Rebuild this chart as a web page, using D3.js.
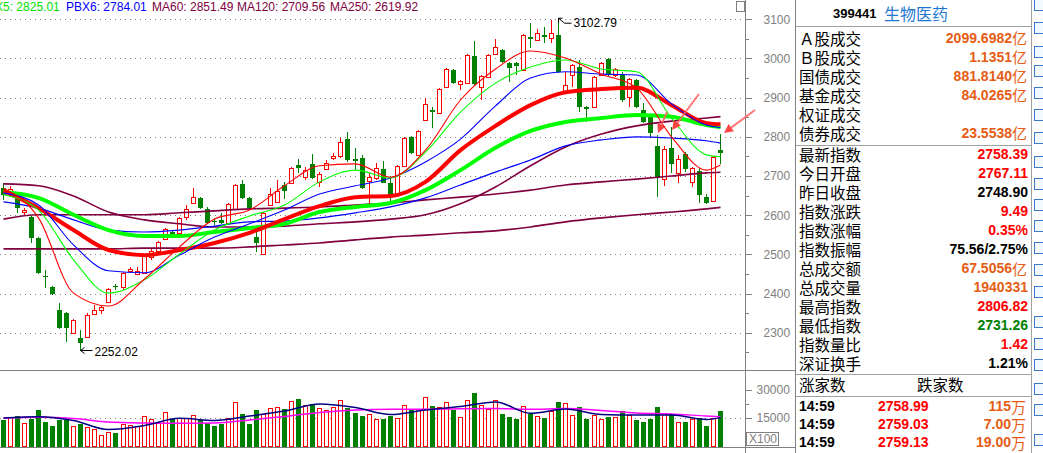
<!DOCTYPE html>
<html>
<head>
<meta charset="utf-8">
<script src="https://cdn.jsdelivr.net/npm/d3@7"></script>
<style>
body{margin:0;background:#fff;overflow:hidden}
svg{display:block}
</style>
</head>
<body>
<svg id="chart" width="1043" height="453"></svg>
<script>
// daily candles, [open, high, low, close]
var candles = [
[2669,2682,2639,2652],[2660,2675,2655,2668],[2644,2652,2606,2618],[2607,2618,2601,2613],
[2595,2598,2529,2542],[2542,2545,2450,2452],[2446,2460,2414,2443],[2417,2420,2396,2399],
[2358,2376,2310,2312],[2350,2352,2276,2312],[2299,2335,2297,2332],[2287,2307,2252.02,2274],
[2289,2350,2287,2345],[2348,2371,2346,2358],[2358,2368,2348,2366],[2378,2414,2376,2412],
[2418,2424,2409,2416],[2417,2455,2409,2452],[2458,2468,2452,2463],[2450,2468,2449,2458],
[2452,2498,2450,2496],[2493,2516,2486,2509],[2509,2534,2506,2532],[2539,2567,2537,2565],
[2557,2563,2547,2550],[2555,2595,2552,2593],[2595,2626,2588,2616],[2631,2669,2630,2646],
[2644,2647,2616,2618],[2616,2620,2577,2580],[2585,2593,2575,2582],[2588,2606,2578,2580],
[2580,2631,2578,2629],[2616,2680,2613,2677],[2680,2690,2641,2644],[2644,2647,2613,2618],
[2544,2572,2506,2529],[2501,2608,2498,2606],[2626,2669,2624,2654],[2634,2690,2631,2662],
[2677,2685,2641,2662],[2682,2723,2680,2720],[2728,2743,2708,2720],[2697,2723,2690,2715],
[2731,2756,2692,2695],[2685,2710,2672,2705],[2718,2741,2715,2733],[2746,2759,2741,2751],
[2751,2797,2746,2787],[2794,2812,2736,2741],[2743,2771,2715,2738],[2746,2754,2667,2669],
[2687,2708,2626,2697],[2695,2733,2690,2720],[2718,2738,2681,2682],[2682,2695,2626,2646],
[2654,2728,2651,2726],[2726,2800,2723,2797],[2800,2802,2756,2759],[2754,2817,2751,2815],
[2843,2899,2840,2884],[2868,2876,2823,2863],[2861,2925,2858,2922],[2927,2976,2925,2973],
[2971,2973,2935,2937],[2935,2945,2920,2942],[2937,3011,2935,3009],[3006,3045,2932,2935],
[2927,2958,2894,2955],[2953,3011,2950,3009],[3011,3050,3009,3029],[3022,3024,2988,2991],
[2988,2991,2940,2976],[2988,2991,2958,2981],[2971,3062,2968,3060],[3055,3091,3027,3050],
[3047,3075,3045,3065],[3060,3080,3040,3055],[3052,3098,3040,3065],[3060,3102.79,2963,2966],
[2917,2966,2915,2932],[2958,2985,2927,2983],[2978,2996,2863,2876],[2876,2878,2838,2871],
[2876,2955,2874,2953],[2958,2991,2955,2988],[2999,3002,2953,2958],[2958,2976,2953,2973],
[2958,2966,2889,2894],[2902,2950,2876,2948],[2945,2948,2873,2876],[2868,2886,2835,2838],
[2851,2856,2797,2810],[2777,2805,2647,2695],[2692,2777,2675,2769],[2772,2825,2708,2731],
[2708,2754,2682,2744],[2756,2761,2710,2718],[2685,2723,2672,2721],[2713,2721,2631,2652],
[2647,2654,2629,2631],[2636,2751,2634,2748.90],[2767.11,2806.82,2731.26,2758.39]
];
// volume (x100)
var volumes = [
14300,15700,16600,12200,14800,19800,13400,11250,14300,14300,10700,12200,10000,8900,5900,7500,
7700,11800,11250,10700,16100,14300,12200,18000,14800,14800,14800,16600,14300,12700,11250,12200,
14800,23400,17500,12500,19800,17000,20200,20700,20200,24100,25700,22000,22900,20200,19300,21100,
24600,21100,18400,16600,17100,14300,14800,16600,15200,22000,19600,19600,26400,22000,21100,23600,
19600,15400,24600,29100,22000,19600,24600,17900,16100,15200,21400,17500,16100,15400,18900,24100,
22900,16600,21400,15200,16600,14300,16100,15700,19300,16600,14500,13400,15200,21400,17500,17500,
13000,13400,14300,15700,11250,14800,19403
];
// averages at these candle positions
var maIdx = [0,5,10,15,20,25,30,35,40,45,50,55,60,65,70,75,80,85,90,95,100,102];
var pbx1 = [2669,2593,2401,2368,2437,2519,2590,2613,2675,2726,2731,2697,2766,2894,2973,3019,3001,2960,2925,2800,2715,2728];
var pbx2 = [2652,2613,2486,2401,2435,2501,2562,2598,2626,2685,2715,2695,2761,2863,2937,2978,2996,2973,2966,2848,2754,2749];
var pbx3 = [2657,2626,2524,2458,2453,2498,2544,2578,2613,2654,2675,2695,2736,2794,2879,2950,2966,2960,2958,2884,2830,2823];
var pbx4 = [2662,2618,2562,2511,2498,2511,2529,2555,2590,2623,2646,2649,2685,2766,2828,2881,2914,2922,2925,2881,2835,2832];
var pbx5 = [2659,2644,2601,2562,2547,2547,2557,2567,2578,2608,2621,2631,2664,2715,2772,2815,2838,2848,2856,2851,2830,2825.01];
var pbx6 = [2634,2618,2588,2562,2557,2562,2572,2583,2585,2593,2606,2621,2644,2677,2710,2741,2777,2792,2800,2797,2790,2784.01];
var ma60 = [2680,2675,2649,2608,2588,2578,2570,2570,2572,2578,2583,2590,2601,2629,2672,2726,2774,2807,2828,2840,2848,2851.49];
var ma120 = [2590,2601,2601,2601,2601,2606,2611,2616,2618,2621,2626,2631,2639,2646,2654,2664,2677,2685,2692,2700,2708,2709.56];
var ma250 = [2514,2514,2514,2514,2516,2516,2516,2519,2524,2529,2537,2544,2549,2555,2560,2570,2583,2593,2601,2608,2616,2619.92];
var volMa5 = [15000,15700,13660,8840,10980,14840,13660,16070,18750,22500,20620,16870,19290,21160,23570,17520,19820,16870,16600,16600,14200,15200];
var volMa10 = [14840,15370,14730,12860,12320,12160,12320,13930,15800,17950,19290,19660,19660,19930,20090,19660,20090,19020,17680,17140,16070,15700];
var priceTicks = [2300,2400,2500,2600,2700,2800,2900,3000,3100];
var volTicks = [15000,30000];
var legend = [["PBX5: 2825.01","#00e000"],["PBX6: 2784.01","#0000ff"],["MA60: 2851.49","#800040"],["MA120: 2709.56","#800040"],["MA250: 2619.92","#800040"]];
var infoTop = [["Ａ股成交","2099.6982","亿"],["Ｂ股成交","1.1351","亿"],["国债成交","881.8140","亿"],["基金成交","84.0265","亿"],["权证成交","",""],["债券成交","23.5538","亿"]];
var infoMid = [["最新指数","2758.39",""],["今日开盘","2767.11",""],["昨日收盘","2748.90",""],["指数涨跌","9.49",""],["指数涨幅","0.35%",""],["指数振幅","75.56/2.75%",""],["总成交额","67.5056","亿"],["总成交量","1940331",""],["最高指数","2806.82",""],["最低指数","2731.26",""],["指数量比","1.42",""],["深证换手","1.21%",""]];
var ticks = [["14:59","2758.99","115","万"],["14:59","2759.03","7.00","万"],["14:59","2759.13","19.00","万"]];

var RED="#ff0000", GRN="#008000", ORG="#e65c14", GRID="#808080";
var numFont="Arial, 'Liberation Sans', sans-serif";
var cjkFont="'Noto Sans CJK SC', sans-serif";

var svg = d3.select("#chart");
var n = candles.length;
var xs = d3.scaleBand().domain(d3.range(n)).range([1, 1+7.03*(n-0.29)]).paddingInner(0.29).paddingOuter(0);
var yP = d3.scaleLinear().domain([2300,3100]).range([332.7,19.3]);
var yV = d3.scaleLinear().domain([0,30000]).range([446,390]);
function cx(k){return Math.round(xs(k))+2.5;}

// frame lines
var frame = svg.append("g").attr("stroke",GRID).attr("stroke-width",1).attr("shape-rendering","crispEdges");
frame.append("line").attr("x1",0).attr("x2",796).attr("y1",370.5).attr("y2",370.5);
frame.append("line").attr("x1",0).attr("x2",796).attr("y1",447.5).attr("y2",447.5);
frame.append("line").attr("x1",745.5).attr("x2",745.5).attr("y1",0).attr("y2",453);
frame.append("line").attr("x1",795.5).attr("x2",795.5).attr("y1",0).attr("y2",453);

// dotted grid
svg.append("g").selectAll("line").data(priceTicks).enter().append("line")
  .attr("x1",0).attr("x2",745).attr("y1",d=>Math.round(yP(d))+0.5).attr("y2",d=>Math.round(yP(d))+0.5)
  .attr("stroke",GRID).attr("stroke-dasharray","1,4").attr("shape-rendering","crispEdges");
svg.append("line").attr("x1",0).attr("x2",745).attr("y1",Math.round(yV(15000))+0.5).attr("y2",Math.round(yV(15000))+0.5)
  .attr("stroke",GRID).attr("stroke-dasharray","1,4").attr("shape-rendering","crispEdges");

// price axis
var axP = svg.append("g").attr("transform","translate(745.5,0)")
  .call(d3.axisRight(yP).tickValues(priceTicks).tickSize(6).tickPadding(12).tickFormat(d3.format("d")));
var axPm = svg.append("g").attr("transform","translate(745.5,0)")
  .call(d3.axisRight(yP).tickValues(d3.range(2250,3150,100)).tickSize(3).tickFormat(""));
var axV = svg.append("g").attr("transform","translate(745.5,0)")
  .call(d3.axisRight(yV).tickValues(volTicks).tickSize(6).tickPadding(5).tickFormat(d3.format("d")));
var axVm = svg.append("g").attr("transform","translate(745.5,0)")
  .call(d3.axisRight(yV).tickValues([7500,22500]).tickSize(3).tickFormat(""));
[axP,axPm,axV,axVm].forEach(function(a){
  a.select(".domain").remove();
  a.selectAll("line").attr("stroke",GRID).attr("shape-rendering","crispEdges");
  a.selectAll("text").attr("fill",GRID).attr("font-family",numFont).attr("font-size","12px");
});
svg.append("rect").attr("x",746.5).attr("y",432.5).attr("width",32).attr("height",13).attr("fill","none").attr("stroke",GRID);
svg.append("text").text("X100").attr("x",749).attr("y",443).attr("fill",GRID).attr("font-family",numFont).attr("font-size","12px");
svg.append("rect").attr("x",736.5).attr("y",1.5).attr("width",8).attr("height",10).attr("fill","none").attr("stroke",GRID);

// volume bars
var vg = svg.append("g").attr("shape-rendering","crispEdges");
vg.selectAll("rect").data(volumes).enter().append("rect")
  .attr("x",(d,i)=>candles[i][3]>=candles[i][0]?Math.round(xs(i))+0.5:Math.round(xs(i)))
  .attr("y",d=>Math.round(yV(d))+0.5)
  .attr("width",(d,i)=>candles[i][3]>=candles[i][0]?4:5)
  .attr("height",d=>446-Math.round(yV(d)))
  .attr("fill",(d,i)=>candles[i][3]>=candles[i][0]?"#fff":GRN)
  .attr("stroke",(d,i)=>candles[i][3]>=candles[i][0]?RED:"none");

var lineV = d3.line().x((d,i)=>cx(maIdx[i])).y(d=>yV(d)).curve(d3.curveMonotoneX);
svg.append("path").attr("d",lineV(volMa10)).attr("fill","none").attr("stroke","#ff00ff").attr("stroke-width",1.5);
svg.append("path").attr("d",lineV(volMa5)).attr("fill","none").attr("stroke","#000080").attr("stroke-width",1.5);

// candles
var cg = svg.append("g").attr("shape-rendering","crispEdges");
candles.forEach(function(c,k){
  var x = Math.round(xs(k)), up = c[3]>=c[0];
  var top = Math.round(yP(Math.max(c[0],c[3]))), bot = Math.round(yP(Math.min(c[0],c[3])));
  var hi = Math.round(yP(c[1])), lo = Math.round(yP(c[2]));
  var col = up?RED:GRN;
  if (up) {
    cg.append("line").attr("x1",x+2.5).attr("x2",x+2.5).attr("y1",hi).attr("y2",top).attr("stroke",col);
    cg.append("line").attr("x1",x+2.5).attr("x2",x+2.5).attr("y1",bot).attr("y2",lo).attr("stroke",col);
    if (bot-top<2) cg.append("line").attr("x1",x).attr("x2",x+5).attr("y1",top+0.5).attr("y2",top+0.5).attr("stroke",col);
    else cg.append("rect").attr("x",x+0.5).attr("y",top+0.5).attr("width",4).attr("height",bot-top).attr("fill","#fff").attr("stroke",col);
  } else {
    cg.append("line").attr("x1",x+2.5).attr("x2",x+2.5).attr("y1",hi).attr("y2",lo).attr("stroke",col);
    if (bot-top<2) cg.append("line").attr("x1",x).attr("x2",x+5).attr("y1",top+0.5).attr("y2",top+0.5).attr("stroke",col);
    else cg.append("rect").attr("x",x).attr("y",top).attr("width",5).attr("height",bot-top).attr("fill",col);
  }
});

// average lines
var lineP = d3.line().x((d,i)=>cx(maIdx[i])).y(d=>yP(d)).curve(d3.curveMonotoneX);
[[ma250,"#800040",1.6],[ma120,"#800040",1.6],[ma60,"#800040",1.6],[pbx6,"#0000ff",1.2],
 [pbx5,"#00ff00",4],[pbx4,"#ff0000",4],[pbx3,"#0000ff",1.1],[pbx2,"#00ff00",1.1],[pbx1,"#ff0000",1.1]]
.forEach(function(s){
  svg.append("path").attr("d",lineP(s[0])).attr("fill","none").attr("stroke",s[1]).attr("stroke-width",s[2]);
});

// high / low marks
var iMax = d3.maxIndex(candles,d=>d[1]), iMin = d3.minIndex(candles,d=>d[2]);
var hx = cx(iMax), hy = yP(candles[iMax][1]);
svg.append("path").attr("d","M"+hx+","+hy+"l6,5l7,0").attr("fill","none").attr("stroke","#000");
svg.append("path").attr("d","M"+hx+","+hy+"l0,4M"+hx+","+hy+"l4,0").attr("stroke","#000");
svg.append("text").text(d3.format(".2f")(candles[iMax][1])).attr("x",hx+15).attr("y",hy+9)
  .attr("font-family",numFont).attr("font-size","12px").attr("fill","#000");
var lx = cx(iMin), ly = Math.round(yP(candles[iMin][2]))-0.5;
svg.append("path").attr("d","M"+lx+","+ly+"h12M"+lx+","+ly+"l4,-3M"+lx+","+ly+"l4,3").attr("fill","none").attr("stroke","#000");
svg.append("text").text(d3.format(".2f")(candles[iMin][2])).attr("x",lx+14).attr("y",ly+5)
  .attr("font-family",numFont).attr("font-size","12px").attr("fill","#000");

// annotation arrows
[[667,112,658,133],[699,94,672,130],[755,110,724,133]].forEach(function(a){
  var ang = Math.atan2(a[3]-a[1],a[2]-a[0]);
  var bx = a[2]-9*Math.cos(ang), by = a[3]-9*Math.sin(ang);
  svg.append("line").attr("x1",a[0]).attr("y1",a[1]).attr("x2",bx).attr("y2",by)
    .attr("stroke","#ff6060").attr("stroke-width",2).attr("opacity",0.85);
  var px = -Math.sin(ang)*4.5, py = Math.cos(ang)*4.5;
  svg.append("path").attr("d","M"+a[2]+","+a[3]+"L"+(bx+px)+","+(by+py)+"L"+(bx-px)+","+(by-py)+"Z")
    .attr("fill","#ff3030").attr("opacity",0.9);
});

// legend
var lgx = [-21,66,152,237,330];
svg.append("g").selectAll("text").data(legend).enter().append("text")
  .text(d=>d[0]).attr("x",(d,i)=>lgx[i]).attr("y",11).attr("fill",d=>d[1])
  .attr("font-family",numFont).attr("font-size","12px");

// info panel
var pg = svg.append("g");
var pl = pg.append("g").attr("stroke","#a0a0a0").attr("shape-rendering","crispEdges");
[[796,1031,26.5],[796,1031,145.5],[796,1031,374.5],[796,1031,396.5]].forEach(function(l){
  pl.append("line").attr("x1",l[0]).attr("x2",l[1]).attr("y1",l[2]).attr("y2",l[2]);
});
pl.append("line").attr("x1",1031.5).attr("x2",1031.5).attr("y1",0).attr("y2",453);
pg.append("text").text("399441").attr("x",833).attr("y",13).attr("dominant-baseline","central")
  .attr("font-family",numFont).attr("font-weight","bold").attr("font-size","13px").attr("fill","#000");
pg.append("text").text("生物医药").attr("x",884).attr("y",13).attr("dominant-baseline","central")
  .attr("font-family",cjkFont).attr("font-size","16px").attr("fill","#1e78d2");

function valueWithUnit(num,unit,y,col,right){
  var xe = unit ? right-16 : right;
  pg.append("text").text(num).attr("x",xe).attr("y",y).attr("text-anchor","end").attr("dominant-baseline","central")
    .attr("font-family",numFont).attr("font-weight","bold").attr("font-size","14px").attr("fill",col);
  if (unit) pg.append("text").text(unit).attr("x",xe).attr("y",y).attr("dominant-baseline","central")
    .attr("font-family",cjkFont).attr("font-size","15px").attr("fill",col);
}
function infoRow(row,y,col){
  pg.append("text").text(row[0]).attr("x",799).attr("y",y).attr("dominant-baseline","central")
    .attr("font-family",cjkFont).attr("font-size","15.5px").attr("fill","#000");
  if (row[1]) valueWithUnit(row[1],row[2],y,col,1028);
}
infoTop.forEach(function(r,i){infoRow(r,37.5+19*i,ORG);});
var midCol = [RED,RED,"#000",RED,RED,"#000",ORG,ORG,RED,GRN,RED,"#000"];
infoMid.forEach(function(r,i){infoRow(r,154+19*i,midCol[i]);});
pg.append("text").text("涨家数").attr("x",799).attr("y",384).attr("dominant-baseline","central")
  .attr("font-family",cjkFont).attr("font-size","15.5px");
pg.append("text").text("跌家数").attr("x",917).attr("y",384).attr("dominant-baseline","central")
  .attr("font-family",cjkFont).attr("font-size","15.5px");
ticks.forEach(function(r,i){
  var y = 406+18*i;
  pg.append("text").text(r[0]).attr("x",799).attr("y",y).attr("dominant-baseline","central")
    .attr("font-family",numFont).attr("font-weight","bold").attr("font-size","14px").attr("fill","#000");
  pg.append("text").text(r[1]).attr("x",878).attr("y",y).attr("dominant-baseline","central")
    .attr("font-family",numFont).attr("font-weight","bold").attr("font-size","14px").attr("fill",RED);
  valueWithUnit(r[2],r[3],y,ORG,1027);
});

// toolbar icons on the far right
var icons = [5,28,52,71,93,115,138,162,184,205,226,248,270,292,322,344,365,389,410,440];
svg.append("g").selectAll("rect").data(icons).enter().append("rect")
  .attr("x",1034.5).attr("y",d=>d-5.5).attr("width",10).attr("height",11)
  .attr("fill","#f4f8ff").attr("stroke","#3a78c8").attr("shape-rendering","crispEdges");
</script>
</body>
</html>
